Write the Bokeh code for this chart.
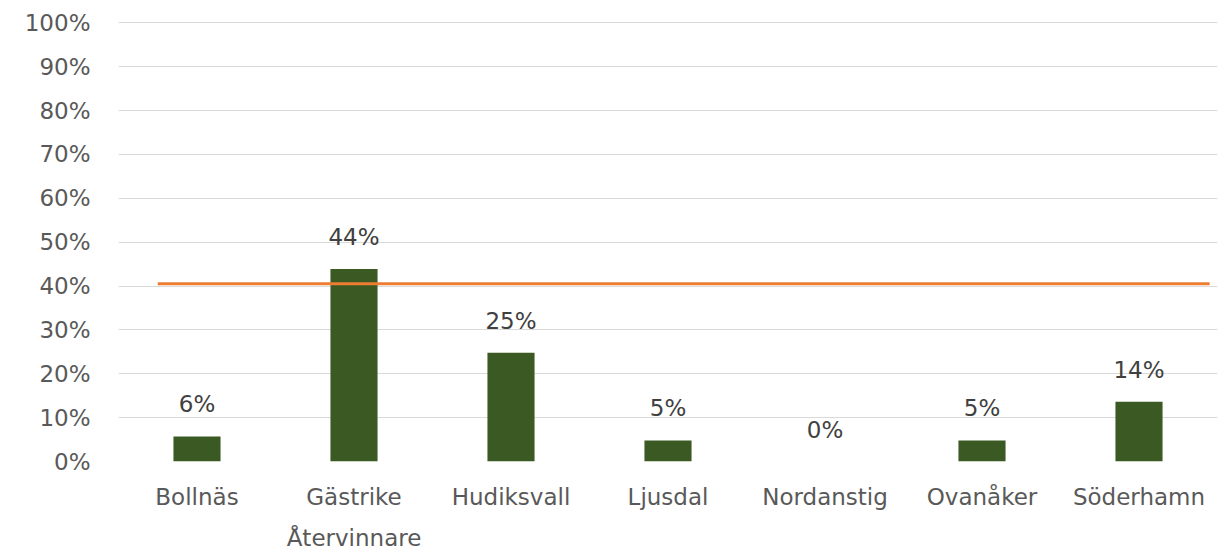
from bokeh.plotting import figure
from bokeh.models import ColumnDataSource, Range1d, FixedTicker, LabelSet
from bokeh.core.properties import value
from bokeh.embed import file_html
from bokeh.resources import INLINE

categories = ["Bollnäs", "Gästrike\nÅtervinnare", "Hudiksvall", "Ljusdal",
              "Nordanstig", "Ovanåker", "Söderhamn"]
values = [0.057, 0.439, 0.248, 0.048, 0.0, 0.048, 0.136]
target = 0.405
y_ticks = [i / 10 for i in range(11)]
y_tick_labels = [f"{int(t * 100)}%" for t in y_ticks]

FONT = "DejaVu Sans"
n = len(categories)
xs = [i + 0.5 for i in range(n)]
labels = [f"{v:.0%}" for v in values]

src = ColumnDataSource(dict(x=xs, top=values, label=labels))

p = figure(width=1224, height=554, output_backend="svg", toolbar_location=None,
           x_range=Range1d(0, n), y_range=Range1d(0, 1.003),
           min_border_left=118, min_border_right=7, min_border_top=21,
           min_border_bottom=92)
p.outline_line_color = None
p.background_fill_color = "white"

p.vbar(x="x", top="top", width=0.3, bottom=0, source=src,
       fill_color="#3b5a23", line_color=None)

p.line(x=[0.25, n - 0.05], y=[target, target], line_color="#ED7D31", line_width=3)

p.add_layout(LabelSet(x="x", y="top", text="label", source=src,
                      text_align="center", text_baseline="alphabetic", y_offset=24,
                      text_font=value(FONT), text_font_size="23px", text_color="#404040"))

p.xaxis.ticker = FixedTicker(ticks=xs)
p.xaxis.major_label_overrides = {x: c for x, c in zip(xs, categories)}
p.yaxis.ticker = FixedTicker(ticks=y_ticks)
p.yaxis.major_label_overrides = {t: l for t, l in zip(y_ticks, y_tick_labels)}

for ax in (p.xaxis, p.yaxis):
    ax.axis_line_color = None
    ax.major_tick_line_color = None
    ax.minor_tick_line_color = None
    ax.major_label_text_font = FONT
    ax.major_label_text_font_size = "23px"
    ax.major_label_text_color = "#595959"
p.yaxis.major_label_standoff = 22
p.xaxis.major_label_standoff = 16
p.xaxis.major_label_text_line_height = 1.6

p.xgrid.grid_line_color = None
p.ygrid.ticker = FixedTicker(ticks=y_ticks)
p.ygrid.grid_line_color = "#d9d9d9"
p.ygrid.grid_line_width = 1

open("out.html", "w").write(file_html(p, INLINE))
